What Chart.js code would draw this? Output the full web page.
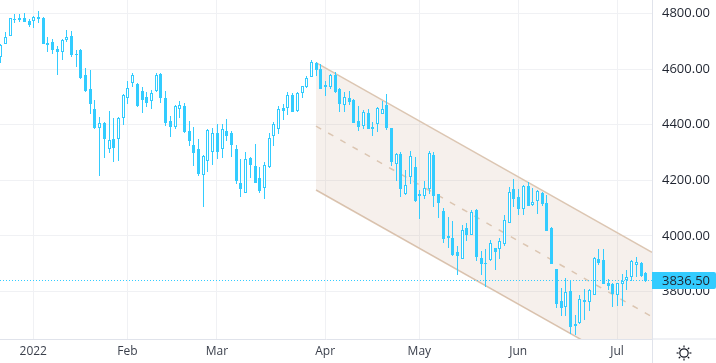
<!DOCTYPE html>
<html><head><meta charset="utf-8">
<style>html,body{margin:0;padding:0;background:#fff}canvas{display:block}</style>
<script src="https://cdn.jsdelivr.net/npm/chart.js@4"></script>
</head><body><canvas id="c" width="716" height="363"></canvas>
<script>
const firstIndex = -7;
const opens = [4642,4689,4718,4781,4783,4784,4772,4772,4787,4784,4694,4698,4671,4663,4703,4719,4655,4669,4578,4529,4455,4389,4406,4311,4347,4347,4423,4495,4551,4545,4520,4499,4484,4520,4581,4495,
4413,4393,4458,4467,4376,4326,4313,4218,4268,4301,4369,4311,4376,4369,4311,4189,4153,4279,4250,4207,4171,4249,4361,4383,4459,4459,4506,4448,4515,4535,4571,
4621,4601,4543,4537,4579,4529,4472,4495,4489,4413,4397,4441,4392,4401,4440,4471,4387,4260,4293,4149,4213,4248,4145,4145,4170,4290,4149,
4088,3999,3992,3941,3918,4027,4004,4093,3920,3902,3912,3956,3951,3972,4047,
4169,4140,4098,4178,4112,4124,4154,4118,4028,3881,3765,3745,3801,3683,3685,3769,3763,3788,3917,3913,3830,3827,3786,3828,3840,3853,3896,3902,3866];
const highs = [4690,4733,4783,4799,4799,4801,4781,4791,4809,4787,4715,4707,4682,4707,4740,4737,4668,4671,4603,4596,4488,4427,4409,4449,4424,4427,4509,4557,4585,4549,4535,4517,4525,4585,4585,4520,
4431,4471,4485,4478,4413,4392,4349,4291,4383,4387,4403,4401,4419,4376,4326,4275,4301,4284,4331,4248,4265,4369,4409,4469,4473,4517,4513,4517,4538,4574,4633,
4627,4617,4557,4583,4589,4532,4518,4520,4491,4467,4452,4455,4409,4465,4484,4511,4389,4298,4301,4237,4304,4284,4166,4197,4304,4301,4152,
4099,4067,4052,3962,4039,4045,4093,4097,3944,3953,3984,3956,3992,4076,4175,
4205,4169,4183,4194,4171,4165,4157,4147,4031,3881,3812,3848,3841,3717,3787,3809,3809,3923,3953,3953,3845,3829,3831,3863,3877,3915,3923,3905,3869];
const lows = [4623,4689,4718,4767,4771,4770,4753,4749,4767,4691,4663,4656,4577,4631,4699,4645,4609,4563,4518,4440,4385,4217,4281,4299,4267,4271,4400,4476,4536,4465,4443,4465,4458,4518,4479,4397,
4357,4386,4425,4371,4325,4253,4217,4105,4231,4256,4278,4281,4343,4285,4188,4141,4153,4209,4191,4155,4134,4243,4325,4368,4418,4435,4447,4447,4497,4533,4571,
4575,4529,4505,4530,4514,4446,4446,4471,4406,4377,4385,4386,4359,4374,4437,4382,4251,4199,4141,4148,4187,4122,4061,4133,4149,4104,4065,
3975,3957,3929,3861,3918,3983,4004,3909,3860,3815,3911,3878,3917,3965,4045,
4104,4076,4076,4107,4109,4080,4109,4019,3900,3741,3713,3713,3648,3643,3683,3698,3731,3786,3895,3827,3805,3745,3749,3749,3805,3839,3851,3853,3834];
const closes = [4687,4714,4783,4777,4778,4771,4757,4787,4782,4692,4685,4667,4663,4704,4715,4652,4652,4569,4521,4476,4388,4405,4350,4344,4317,4423,4506,4533,4578,4467,4490,4477,4513,4578,4497,4407,
4392,4467,4470,4375,4343,4299,4224,4286,4381,4369,4303,4383,4361,4328,4199,4170,4275,4256,4191,4163,4254,4351,4401,4455,4451,4506,4447,4513,4538,4567,4625,
4595,4530,4537,4578,4519,4476,4499,4483,4407,4393,4445,4386,4386,4459,4455,4388,4267,4293,4170,4182,4286,4125,4152,4171,4297,4145,4119,
3990,3993,3931,3929,4020,4004,4085,3925,3900,3900,3973,3943,3980,4056,4157,
4131,4097,4179,4109,4121,4161,4116,4019,3900,3756,3740,3797,3673,3677,3773,3763,3805,3920,3902,3828,3821,3791,3829,3836,3851,3909,3905,3855,3836.5];
const lastPrice = 3836.5;
const yTicks = [3800,4000,4200,4400,4600,4800];
const xTickIdx = [0,20,39,62,82,103,124];
const xTickLabels = ['2022','Feb','Mar','Apr','May','Jun','Jul'];
const channelIdx = [60.05,131.42];
const channelTop = [4623,3941];
const channelMid = [4395,3709];
const channelBottom = [4165,3483];
const yRange = [3629,4848.6];
const xRange = [-7.064,131.42];

const BLUE = '#33ccff', AXIS = '#e0e3eb', GRID = '#f0f1f4', TXT = '#1f2430';
const idx = opens.map((_, i) => firstIndex + i);

const snap = {
  id: 'snap',
  afterDatasetsUpdate(chart) {
    chart.data.datasets.forEach((ds, di) => {
      const meta = chart.getDatasetMeta(di);
      if (ds.type === 'bar') {
        meta.data.forEach(el => {
          el.x = Math.round(el.x) + 0.5;
          const a = Math.round(el.y), b = Math.round(el.base);
          el.y = Math.min(a, b);
          el.base = Math.max(a, b) === Math.min(a, b) ? el.y + 1 : Math.max(a, b);
        });
      }
      if (ds.label === 'last') {
        meta.data.forEach(p => { p.y = Math.floor(p.y - 0.5) + 0.5; });
      }
    });
  },
  afterDraw(chart) {
    const c = chart.ctx, a = chart.chartArea, W = chart.width, H = chart.height;
    const py = Math.floor(chart.scales.y.getPixelForValue(lastPrice) - 0.5) + 0.5;
    c.save();
    c.strokeStyle = AXIS; c.lineWidth = 1;
    c.beginPath();
    c.moveTo(a.right, a.bottom); c.lineTo(W, a.bottom);
    c.moveTo(a.right + 0.5, a.bottom); c.lineTo(a.right + 0.5, H);
    c.stroke();
    c.fillStyle = BLUE;
    c.beginPath();
    c.roundRect(a.right, py - 8.5, W - a.right, 17, [0, 2, 2, 0]);
    c.fill();
    c.fillStyle = TXT;
    c.font = '13px "Open Sans"';
    c.textAlign = 'left'; c.textBaseline = 'middle';
    c.fillText(lastPrice.toFixed(2), a.right + 10, py + 0.5);
    const sx = 684, sy = 353;
    c.strokeStyle = '#131722'; c.lineWidth = 1.2;
    c.beginPath(); c.arc(sx, sy, 4.2, 0, Math.PI * 2); c.stroke();
    for (let k = 0; k < 8; k++) {
      const t = k * Math.PI / 4;
      c.beginPath();
      c.moveTo(sx + Math.cos(t) * 5.4, sy + Math.sin(t) * 5.4);
      c.lineTo(sx + Math.cos(t) * 7.4, sy + Math.sin(t) * 7.4);
      c.stroke();
    }
    c.restore();
  }
};

const lineDs = (label, ys, extra) => Object.assign({
  type: 'line', label,
  data: channelIdx.map((x, i) => ({ x, y: ys[i] })),
  borderColor: '#dcc6b2', borderWidth: 1.5, pointRadius: 0, fill: false, tension: 0, order: 10
}, extra);

const noPad = s => { s.paddingTop = 0; s.paddingBottom = 0; s.paddingLeft = 0; s.paddingRight = 0; };

new Chart(document.getElementById('c'), {
  type: 'bar',
  data: { datasets: [
    lineDs('top', channelTop, { fill: { target: 2 }, backgroundColor: 'rgba(190,150,120,0.14)' }),
    lineDs('mid', channelMid, { borderDash: [6, 8], order: 9 }),
    lineDs('bottom', channelBottom, {}),
    { type: 'bar', label: 'wick', data: idx.map((x, i) => ({ x, y: [lows[i], highs[i]] })),
      backgroundColor: BLUE, borderWidth: 0, barThickness: 1, inflateAmount: 0, grouped: false, order: 5 },
    { type: 'bar', label: 'body', data: idx.map((x, i) => ({ x, y: [opens[i], closes[i]] })),
      backgroundColor: idx.map((_, i) => closes[i] > opens[i] ? '#ffffff' : BLUE),
      borderColor: BLUE, borderWidth: 1, borderSkipped: false, barThickness: 3, inflateAmount: 0, grouped: false, order: 4 },
    { type: 'line', label: 'last', data: [{ x: xRange[0], y: lastPrice }, { x: xRange[1], y: lastPrice }],
      borderColor: BLUE, borderWidth: 1, borderDash: [1, 2], pointRadius: 0, fill: false, order: 1 }
  ] },
  options: {
    responsive: false, animation: false, devicePixelRatio: 1,
    layout: { padding: 0 },
    plugins: { legend: { display: false }, tooltip: { enabled: false } },
    scales: {
      x: {
        type: 'linear', offset: false, min: xRange[0], max: xRange[1],
        afterBuildTicks: s => { s.ticks = xTickIdx.map(value => ({ value })); },
        afterFit: s => { s.height = 24; noPad(s); },
        grid: { color: GRID, offset: false, drawTicks: false },
        border: { color: AXIS },
        ticks: {
          autoSkip: false, maxRotation: 0, padding: 5,
          font: { family: '"Open Sans"', size: 12 }, color: '#3a3f4b',
          callback: (v, i) => xTickLabels[i]
        }
      },
      y: {
        position: 'right', min: yRange[0], max: yRange[1],
        afterBuildTicks: s => { s.ticks = yTicks.map(value => ({ value })); },
        afterFit: s => { s.width = 64; noPad(s); },
        grid: { color: GRID, drawTicks: false },
        border: { color: AXIS },
        ticks: {
          padding: 10, font: { family: '"Open Sans"', size: 13 }, color: TXT,
          callback: v => v.toFixed(2)
        }
      }
    }
  },
  plugins: [snap]
});
</script></body></html>
